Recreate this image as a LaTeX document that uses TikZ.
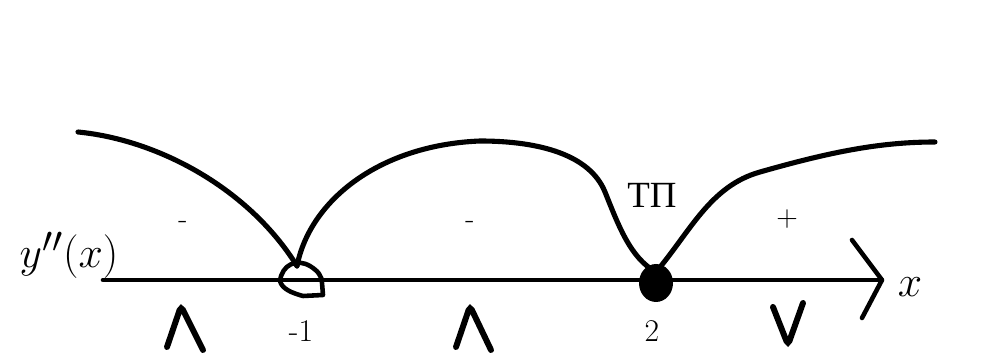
\documentclass[tikz,border=0pt]{standalone}
\usepackage{fontspec}
\usepackage{tikz}
\usetikzlibrary{positioning, calc}
\newfontfamily\cyrfont{Liberation Serif}

\begin{document}
\begin{tikzpicture}[
  x=0.02cm, y=-0.02cm,
  curve/.style   = {line width=2.9pt, line cap=round, line join=round},
  axisline/.style= {line width=2.6pt, line cap=round, line join=round},
  signmark/.style= {line width=3.4pt, line cap=round, rounded corners=2.5pt},
  num/.style     = {inner sep=0pt, font=\fontsize{18}{20}\selectfont},
  sgn/.style     = {inner sep=0pt, font=\fontsize{17}{19}\selectfont},
  big/.style     = {inner sep=0pt, font=\fontsize{28}{31}\selectfont},
  cyr/.style     = {inner sep=0pt, font=\cyrfont\fontsize{21}{24}\selectfont}
]
  \fill[white] (0,0) rectangle (995,361);
  \useasboundingbox (0,0) rectangle (995,361);

  % axis
  \coordinate (O)    at (103,280);
  \coordinate (xend) at (882,280);
  \draw[axisline] (O) -- (xend);
  \draw[axisline] ($(xend)+(-30,-40)$) -- (xend) -- ($(xend)+(-20,38)$);

  % points on the axis
  \coordinate (m1) at (297,266);
  \coordinate (p2) at (656,272);
  \draw[line width=2.6pt, line join=round]
    (280,281) .. controls (282,265) and (296,258) .. (310,266)
    .. controls (318,271) and (322,276) .. (322,283)
    -- (323,295) -- (303,296)
    .. controls (292,293) and (282,289) .. cycle;
  \fill (656,283) ellipse [x radius=17, y radius=19];

  % y''(x)
  \draw[curve] (78,132) .. controls (160,140) and (250,190) .. (m1);
  \draw[curve] (m1) .. controls (310,200) and (380,145) .. (480,141)
    .. controls (540,141) and (590,155) .. (605,192)
    .. controls (618,224) and (630,258) .. (p2);
  \draw[curve] (p2) .. controls (690,232) and (710,186) .. (760,172)
    .. controls (830,152) and (880,142) .. (935,142);

  % labels
  \node[big, anchor=base] (fn)   at (69,268)  {$y''(x)$};
  \node[big, anchor=base] (xlab) at (910,297) {$x$};
  \node[num, anchor=base] (lm1)  at (301,342) {-1};
  \node[num, anchor=base] (l2)   at (652,342) {2};
  \node[cyr, anchor=base] (tp)   at (652,208) {ТП};
  \node[sgn] (s1) at (183,225) {-};
  \node[sgn] (s2) at (470,225) {-};
  \node[sgn] (s3) at (787,219) {+};

  % concave / convex marks
  \draw[signmark] (167,347) -- (181,306) -- (203,350);
  \draw[signmark] (456,347) -- (470,306) -- (491,350);
  \draw[signmark] (773,307) -- (788,345) -- (803,303);
\end{tikzpicture}
\end{document}
